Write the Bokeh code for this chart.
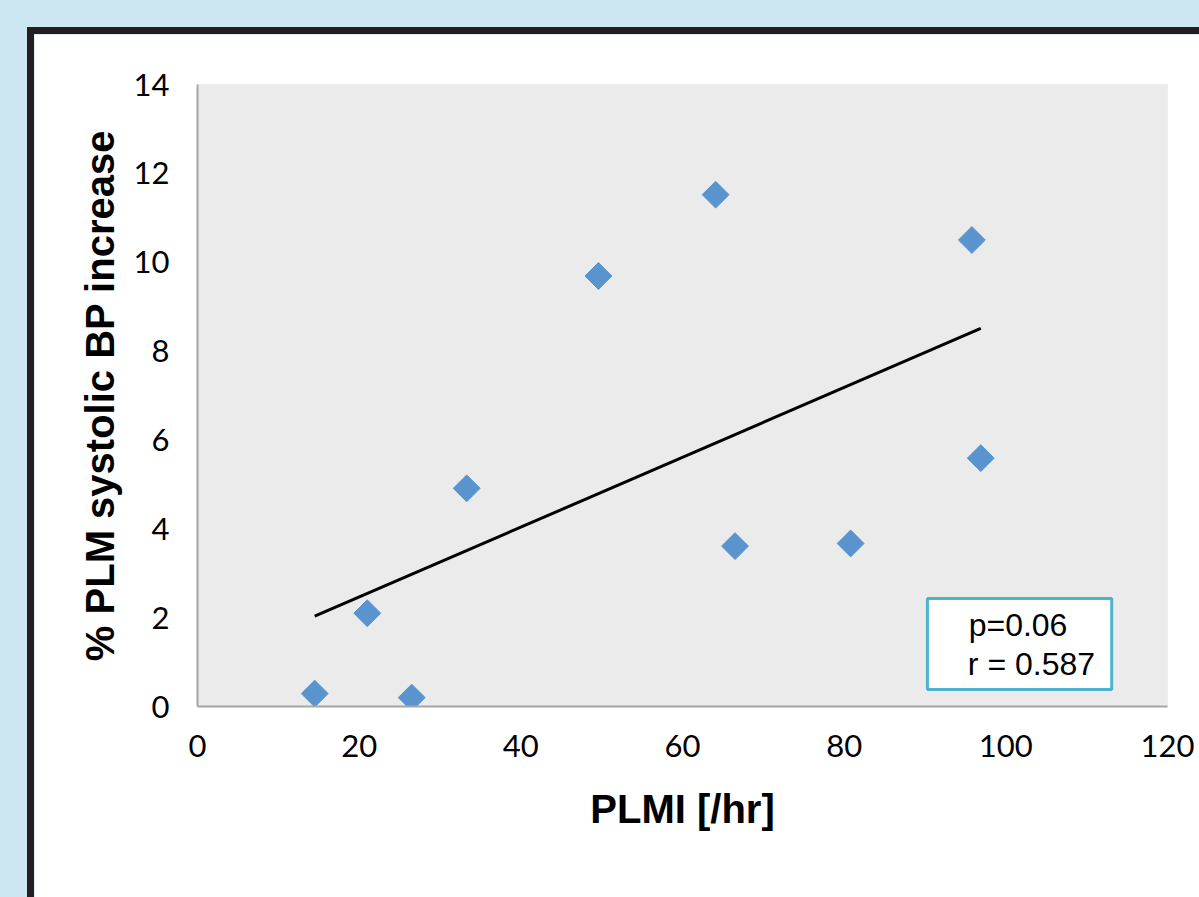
import numpy as np
from bokeh.plotting import figure
from bokeh.layouts import column
from bokeh.models import FixedTicker, BoxAnnotation, Label, ColumnDataSource
from bokeh.embed import file_html
from bokeh.resources import INLINE

# data
plmi = [14.5, 21.0, 26.5, 33.3, 49.6, 64.1, 66.5, 80.8, 95.8, 96.9]
sbp_increase = [0.29, 2.1, 0.2, 4.91, 9.69, 11.52, 3.61, 3.67, 10.5, 5.59]
x_ticks = [0, 20, 40, 60, 80, 100, 120]
y_ticks = [0, 2, 4, 6, 8, 10, 12, 14]
stat_lines = ["p=0.06", "r = 0.587"]

x = np.array(plmi)
y = np.array(sbp_increase)
slope, intercept = np.polyfit(x, y, 1)
fit_x = np.array([x.min(), x.max()])
fit_y = slope * fit_x + intercept

p = figure(width=1172, height=870, x_range=(0, 120), y_range=(0, 14),
           output_backend="svg", toolbar_location=None,
           min_border_left=163, min_border_right=39, min_border_top=50, min_border_bottom=198,
           border_fill_color="white", background_fill_color="#ebebeb",
           outline_line_color=None,
           styles={"border-left": "7px solid #231f20", "border-top": "7px solid #231f20"})
p.grid.grid_line_color = None

for ax in (p.xaxis[0], p.yaxis[0]):
    ax.axis_line_color = "#a6a6a6"
    ax.axis_line_width = 2
    ax.major_tick_line_color = None
    ax.minor_tick_line_color = None
    ax.major_label_text_font = "Lato"
    ax.major_label_text_font_size = "31px"
    ax.major_label_text_color = "black"
    ax.axis_label_text_font = "Liberation Sans"
    ax.axis_label_text_font_style = "bold"
    ax.axis_label_text_font_size = "40px"
    ax.axis_label_text_color = "black"

p.xaxis.ticker = FixedTicker(ticks=x_ticks)
p.yaxis.ticker = FixedTicker(ticks=y_ticks)
p.xaxis.axis_label = "PLMI [/hr]"
p.yaxis.axis_label = "% PLM systolic BP increase"
p.xaxis.major_label_standoff = 22
p.yaxis.major_label_standoff = 22
p.xaxis.axis_label_standoff = 27
p.yaxis.axis_label_standoff = 9

src = ColumnDataSource(dict(x=plmi, y=sbp_increase))
p.line(fit_x, fit_y, line_color="black", line_width=3)
p.scatter("x", "y", source=src, marker="square", angle=np.pi / 4, size=19,
          fill_color="#5A94CE", line_color="#5A94CE")

box = BoxAnnotation(left=90.3, right=113.1, bottom=0.38, top=2.43,
                    fill_color="white", fill_alpha=1.0,
                    line_color="#4BB4CC", line_width=3, line_alpha=1.0)
p.add_layout(box)
p.add_layout(Label(x=95.4, y=1.83, text=stat_lines[0], text_font="Liberation Sans",
                   text_font_size="32px", text_color="black", text_baseline="alphabetic"))
p.add_layout(Label(x=95.3, y=0.96, text=stat_lines[1], text_font="Liberation Sans",
                   text_font_size="32px", text_color="black", text_baseline="alphabetic"))

lay = column(p, styles={"background-color": "#cce6f2", "padding-left": "27px",
                        "padding-top": "27px"})

open("out.html", "w").write(file_html(lay, INLINE))
